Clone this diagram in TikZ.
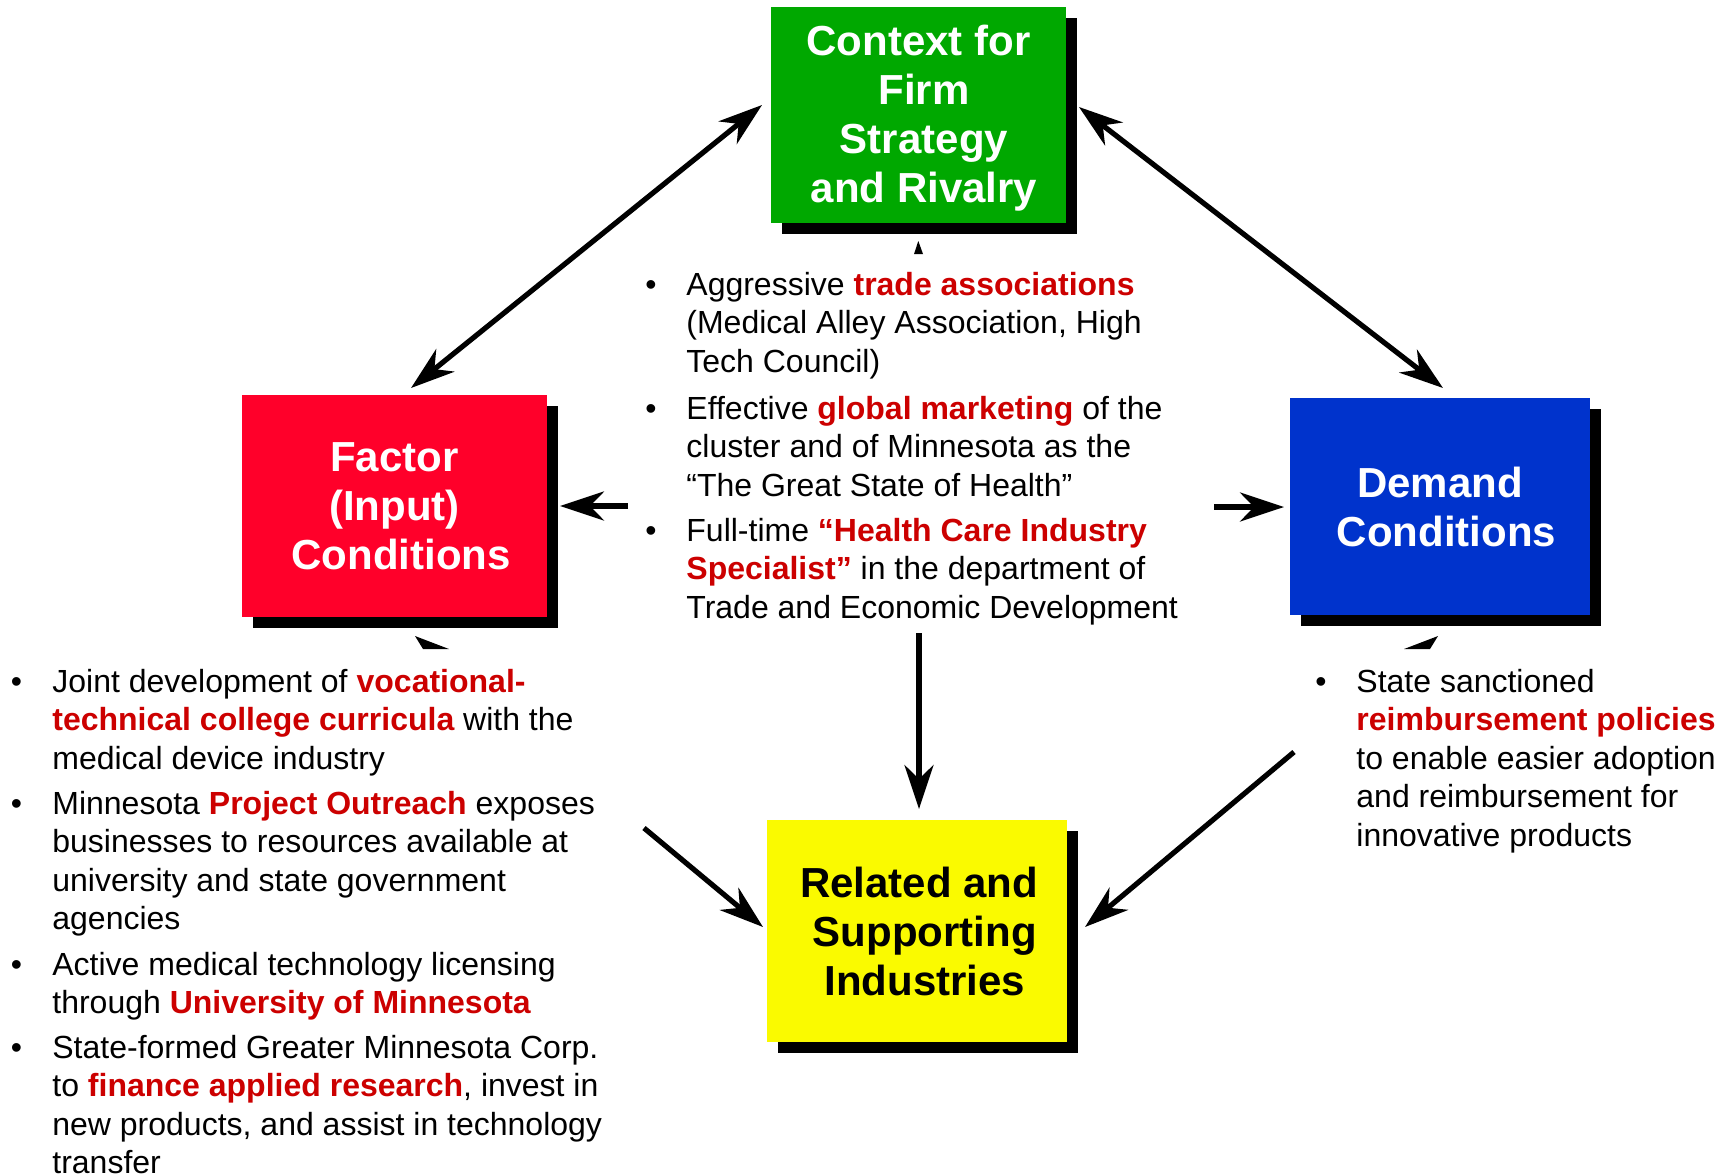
\documentclass[tikz,border=0pt]{standalone}
\usepackage{fontspec}
\setmainfont{Liberation Sans}
\usetikzlibrary{arrows.meta,shadows}
\definecolor{boxgreen}{RGB}{0,168,0}
\definecolor{boxred}{RGB}{255,0,42}
\definecolor{boxblue}{RGB}{0,51,204}
\definecolor{boxyellow}{RGB}{250,250,0}
\definecolor{hl}{RGB}{204,0,0}
\newcommand{\hlt}[1]{\textbf{\color{hl}#1}}
\newcommand{\bodyfont}{\fontsize{16}{19.25}\selectfont}
\newcommand{\para}[1]{\begin{tabular}[t]{@{}l@{}}#1\end{tabular}}
\newcommand{\lsh}[1]{\hspace*{#1}}
\begin{document}
\begin{tikzpicture}[x=0.5pt,y=-0.5pt,
  porter/.style={rectangle, inner sep=0pt, align=center,
     font=\fontsize{21}{24.5}\selectfont\bfseries,
     drop shadow={shadow xshift=5.25pt,shadow yshift=-5.25pt,fill=black,opacity=1}},
  txt/.style={anchor=base west, inner sep=0pt, font=\bodyfont},
  bul/.style={anchor=base, inner sep=0pt, font=\bodyfont},
  conn/.style={line width=2.6pt, -{Stealth[length=22pt,width=14.5pt,inset=7pt]}},
  dconn/.style={line width=2.6pt, {Stealth[length=22pt,width=14.5pt,inset=7pt]}-{Stealth[length=22pt,width=14.5pt,inset=7pt]}},
  frag/.style={fill=black}]
\fill[white] (0,0) rectangle (1727,1175);
\useasboundingbox (0,0) rectangle (1727,1175);

% boxes
\node[porter, fill=boxgreen, text=white, minimum width=147.5pt, minimum height=108pt] (ctx) at (918.5,115)
  {\rule{0pt}{18.3pt}Context for\\\lsh{5.5pt}Firm\\\lsh{5.5pt}Strategy\\\lsh{5.5pt}and Rivalry};
\node[porter, fill=boxred, text=white, minimum width=152.5pt, minimum height=111pt] (fac) at (394.5,506)
  {Factor\\(Input)\\\lsh{6.6pt}Conditions};
\node[porter, fill=boxblue, text=white, minimum width=150pt, minimum height=108.5pt] (dem) at (1440,506.5)
  {Demand\\\lsh{6.6pt}Conditions};
\node[porter, fill=boxyellow, text=black, minimum width=150pt, minimum height=111pt] (rel) at (917,931)
  {\lsh{2.2pt}Related and\\\lsh{7.7pt}Supporting\\\lsh{7.7pt}Industries};

% arrow end points
\coordinate (a1s) at (762,105);   \coordinate (a1e) at (411,388);
\coordinate (a2s) at (1079,107);  \coordinate (a2e) at (1443,388);
\coordinate (a3s) at (628,506);   \coordinate (a3e) at (560,506);
\coordinate (a4s) at (1214,507);  \coordinate (a4e) at (1284,507);
\coordinate (a5s) at (919,633);   \coordinate (a5e) at (919,809);
\coordinate (a6s) at (644,828);   \coordinate (a6e) at (763,927);
\coordinate (a7s) at (1294,752);  \coordinate (a7e) at (1085,927);

\draw[dconn] (a1s) -- (a1e);
\draw[dconn] (a2s) -- (a2e);
\draw[conn] (a3s) -- (a3e);
\draw[conn] (a4s) -- (a4e);
\draw[conn] (a5s) -- (a5e);
\draw[conn] (a6s) -- (a6e);
\draw[conn] (a7s) -- (a7e);

% small arrowhead fragments
\fill[frag] (914,254) -- (918.3,241) -- (923,254) -- cycle;
\fill[frag] (415,636) -- (423,649) -- (449,649) -- cycle;
\fill[frag] (1438,636) -- (1404,649) -- (1430,649) -- cycle;

% centre text
\node[bul] (cb1) at (651,295) {•};
\node[txt] (ct1) at (686,295) {\para{Aggressive \hlt{trade associations}\\(Medical Alley Association, High\\Tech Council)}};
\node[bul] (cb2) at (651,419) {•};
\node[txt] (ct2) at (686,419) {\para{Effective \hlt{global marketing} of the\\cluster and of Minnesota as the\\“The Great State of Health”}};
\node[bul] (cb3) at (651,541) {•};
\node[txt] (ct3) at (686,541) {\para{Full-time \hlt{“Health Care Industry}\\\hlt{Specialist”} in the department of\\Trade and Economic Development}};

% left text
\node[bul] (lb1) at (16.5,692) {•};
\node[txt] (lt1) at (52,692) {\para{Joint development of \hlt{vocational-}\\\hlt{technical college curricula} with the\\medical device industry}};
\node[bul] (lb2) at (16.5,814) {•};
\node[txt] (lt2) at (52,814) {\para{Minnesota \hlt{Project Outreach} exposes\\businesses to resources available at\\university and state government\\agencies}};
\node[bul] (lb3) at (16.5,975) {•};
\node[txt] (lt3) at (52,975) {\para{Active medical technology licensing\\through \hlt{University of Minnesota}}};
\node[bul] (lb4) at (16.5,1058) {•};
\node[txt] (lt4) at (52,1058) {\para{State-formed Greater Minnesota Corp.\\to \hlt{finance applied research}, invest in\\new products, and assist in technology\\transfer\\[-6pt]}};

% right text
\node[bul] (rb1) at (1321,692) {•};
\node[txt] (rt1) at (1356,692) {\para{State sanctioned\\\hlt{reimbursement policies}\\to enable easier adoption\\and reimbursement for\\innovative products}};
\end{tikzpicture}
\end{document}
